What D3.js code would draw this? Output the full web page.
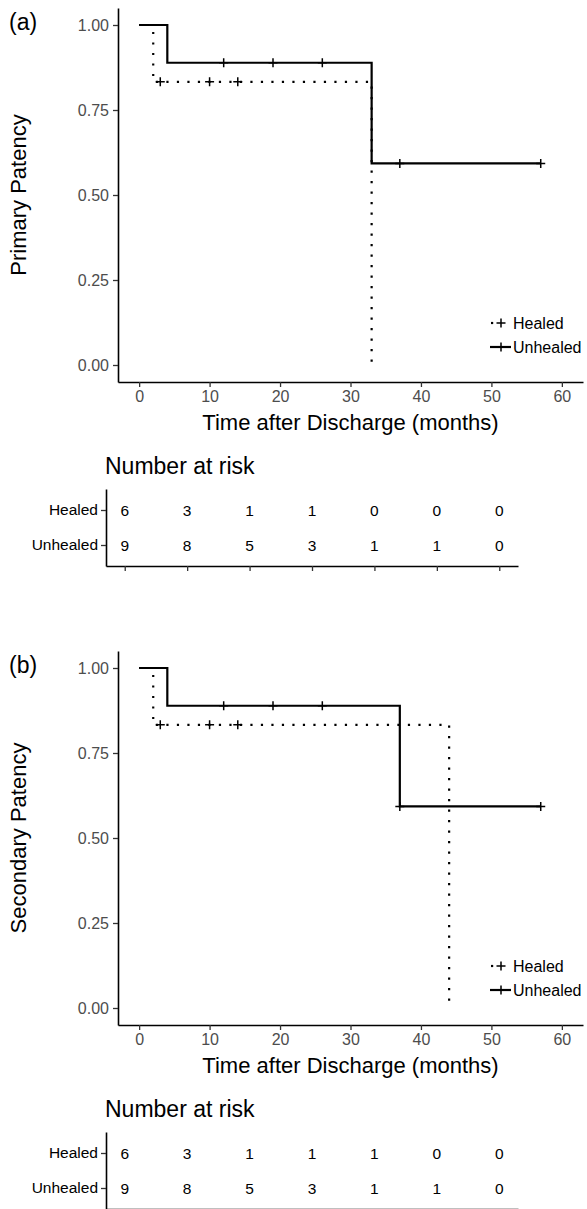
<!DOCTYPE html>
<html>
<head>
<meta charset="utf-8">
<script src="https://cdn.jsdelivr.net/npm/d3@7"></script>
<style>
	body { margin: 0; background: #fff; }
	svg { display: block; font-family: "Liberation Sans", Arial, sans-serif; }
</style>
</head>
<body>
<svg width="587" height="1209"></svg>
<script>
// data
var timeTicks = [0, 10, 20, 30, 40, 50, 60];
var survTicks = [0, 0.25, 0.5, 0.75, 1];
var groups = ["Healed", "Unhealed"];

// [time, survival after that time]
var primaryHealedSteps = [[0, 1], [2, 0.833], [33, 0]];
var primaryHealedCensor = [3, 10, 14];
var primaryUnhealedSteps = [[0, 1], [4, 0.889], [33, 0.593], [57, 0.593]];
var primaryUnhealedCensor = [12, 19, 26, 37, 57];

var secondaryHealedSteps = [[0, 1], [2, 0.833], [44, 0]];
var secondaryHealedCensor = [3, 10, 14];
var secondaryUnhealedSteps = [[0, 1], [4, 0.889], [37, 0.593], [57, 0.593]];
var secondaryUnhealedCensor = [12, 19, 26, 37, 57];

var primaryRiskHealed = [6, 3, 1, 1, 0, 0, 0];
var primaryRiskUnhealed = [9, 8, 5, 3, 1, 1, 0];
var secondaryRiskHealed = [6, 3, 1, 1, 1, 0, 0];
var secondaryRiskUnhealed = [9, 8, 5, 3, 1, 1, 0];

var svg = d3.select("svg");
var dotted = "2.2 8.3";

drawPanel(0, "(a)", "Primary Patency",
	[{steps: primaryHealedSteps, censor: primaryHealedCensor, dash: dotted},
	 {steps: primaryUnhealedSteps, censor: primaryUnhealedCensor, dash: null}],
	[primaryRiskHealed, primaryRiskUnhealed]);

drawPanel(643, "(b)", "Secondary Patency",
	[{steps: secondaryHealedSteps, censor: secondaryHealedCensor, dash: dotted},
	 {steps: secondaryUnhealedSteps, censor: secondaryUnhealedCensor, dash: null}],
	[secondaryRiskHealed, secondaryRiskUnhealed]);

function survAt(steps, t){
	var s = steps[0][1];
	steps.forEach(function(d){ if(d[0] <= t) s = d[1]; });
	return s;
}

function plus(sel, cx, cy, r){
	sel.append("path")
		.attr("d", "M" + (cx - r) + "," + cy + "H" + (cx + r) + "M" + cx + "," + (cy - r) + "V" + (cy + r))
		.attr("stroke", "#000")
		.attr("stroke-width", 1.5)
		.attr("fill", "none");
}

function drawPanel(top, tag, yTitle, curves, risk){
	var g = svg.append("g").attr("transform", "translate(0," + top + ")");

	var x = d3.scaleLinear().domain([-3, 63]).range([118, 583]);
	var y = d3.scaleLinear().domain([-0.05, 1.05]).range([382, 8]);

	var xAxis = g.append("g")
		.attr("transform", "translate(0,382)")
		.call(d3.axisBottom(x).tickValues(timeTicks).tickFormat(d3.format("d")).tickSize(5).tickSizeOuter(0).tickPadding(4));
	var yAxis = g.append("g")
		.attr("transform", "translate(118,0)")
		.call(d3.axisLeft(y).tickValues(survTicks).tickFormat(d3.format(".2f")).tickSize(5).tickSizeOuter(0).tickPadding(4));

	[xAxis, yAxis].forEach(function(a){
		a.select(".domain").attr("stroke", "#000").attr("stroke-width", 1.6);
		a.selectAll(".tick line").attr("stroke", "#333").attr("stroke-width", 1.3);
		a.selectAll(".tick text").attr("fill", "#4d4d4d").style("font-size", "16px")
			.style("font-family", "Liberation Sans, Arial, sans-serif");
	});

	var line = d3.line()
		.curve(d3.curveStepAfter)
		.x(function(d){ return x(d[0]); })
		.y(function(d){ return y(d[1]); });

	curves.forEach(function(c){
		g.append("path")
			.attr("d", line(c.steps))
			.attr("fill", "none")
			.attr("stroke", "#000")
			.attr("stroke-width", 2.2)
			.attr("stroke-dasharray", c.dash);
		c.censor.forEach(function(t){
			plus(g, x(t), y(survAt(c.steps, t)), 4.5);
		});
	});

	// legend
	var leg = g.append("g");
	curves.forEach(function(c, i){
		var ly = 323 + i * 24;
		leg.append("line")
			.attr("x1", c.dash ? 491 : 490).attr("x2", 511)
			.attr("y1", ly).attr("y2", ly)
			.attr("stroke", "#000")
			.attr("stroke-width", 2.2)
			.attr("stroke-dasharray", c.dash ? "2.2 30" : null);
		plus(leg, 501, ly, 4.5);
		leg.append("text")
			.attr("x", 513).attr("y", ly)
			.attr("dy", "0.36em")
			.style("font-size", "16px")
			.text(groups[i]);
	});

	g.append("text")
		.attr("x", 9).attr("y", 30)
		.style("font-size", "23px")
		.text(tag);

	g.append("text")
		.attr("transform", "translate(26," + (8 + 382) / 2 + ") rotate(-90)")
		.attr("text-anchor", "middle")
		.style("font-size", "22px")
		.text(yTitle);

	g.append("text")
		.attr("x", (118 + 583) / 2).attr("y", 430)
		.attr("text-anchor", "middle")
		.style("font-size", "22px")
		.text("Time after Discharge (months)");

	// number at risk table
	var xr = d3.scaleLinear().domain([-3, 63]).range([106, 518]);
	var yr = d3.scalePoint().domain(groups).range([489, 566]).padding(0.6);

	g.append("text")
		.attr("x", 105).attr("y", 474)
		.style("font-size", "23px")
		.text("Number at risk");

	var rx = g.append("g")
		.attr("transform", "translate(0,566)")
		.call(d3.axisBottom(xr).tickValues(timeTicks).tickFormat("").tickSize(5).tickSizeOuter(0));
	var ry = g.append("g")
		.attr("transform", "translate(106,0)")
		.call(d3.axisLeft(yr).tickSize(5).tickSizeOuter(0).tickPadding(3));

	[rx, ry].forEach(function(a){
		a.select(".domain").attr("stroke", "#000").attr("stroke-width", 1.6);
		a.selectAll(".tick line").attr("stroke", "#333").attr("stroke-width", 1.3);
	});
	ry.selectAll(".tick text").attr("fill", "#000").style("font-size", "15.5px")
		.style("font-family", "Liberation Sans, Arial, sans-serif");

	risk.forEach(function(row, i){
		g.selectAll(null)
			.data(row)
			.enter()
			.append("text")
			.attr("x", function(d, j){ return xr(timeTicks[j]); })
			.attr("y", yr(groups[i]))
			.attr("dy", "0.36em")
			.attr("text-anchor", "middle")
			.style("font-size", "15.5px")
			.text(function(d){ return d; });
	});
}
</script>
</body>
</html>
